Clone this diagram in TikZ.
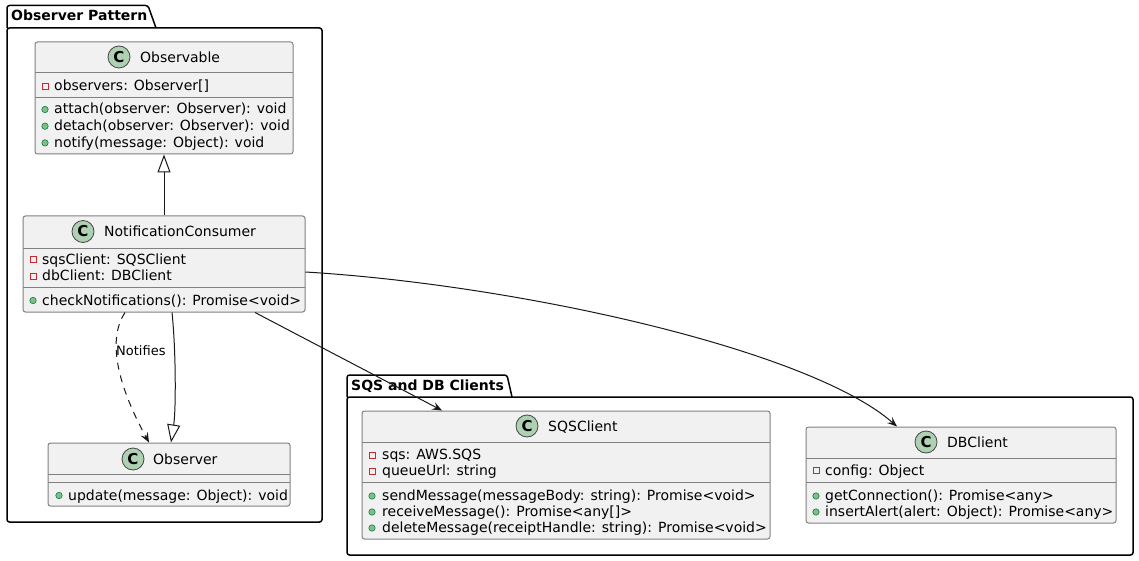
\documentclass[tikz,border=0pt]{standalone}
\usepackage{fontspec}
\setmainfont{DejaVu Sans}
\usetikzlibrary{arrows.meta}
\definecolor{boxfill}{HTML}{F1F1F1}
\definecolor{boxline}{HTML}{181818}
\definecolor{boxedge}{HTML}{808080}
\definecolor{spotfill}{HTML}{ADD1B2}
\definecolor{privred}{HTML}{C82930}
\definecolor{pubfill}{HTML}{84BE84}
\definecolor{publine}{HTML}{038048}
\begin{document}
\begin{tikzpicture}[x=1pt,y=-1pt,
  classbox/.style={draw=boxedge,line width=1pt,fill=boxfill,rounded corners=2.5pt,inner sep=0pt},
  divider/.style={draw=boxedge,line width=1pt},
  classspot/.style={circle,draw=boxline!80,line width=0.8pt,fill=spotfill,minimum size=22pt,inner sep=0pt,font=\fontsize{15}{15}\selectfont\bfseries},
  classtitle/.style={anchor=base west,inner sep=0pt,font=\fontsize{14}{17}\selectfont},
  membertext/.style={anchor=base west,inner sep=0pt,font=\fontsize{14}{17}\selectfont},
  priv/.style={draw=privred,line width=0.8pt},
  pub/.style={draw=publine,fill=pubfill,line width=0.6pt},
  pkg/.style={draw=black,line width=1.5pt,rounded corners=2.5pt},
  pkgtitle/.style={anchor=base west,inner sep=0pt,font=\fontsize{14}{17}\selectfont\bfseries},
  conn/.style={draw=boxline,line width=1pt},
  uses/.style={conn,-{Stealth[length=10pt,width=8pt,inset=4pt]}},
  extends/.style={conn,-{Triangle[open,length=18pt,width=13pt,fill=white]}}]
\useasboundingbox (0,0) rectangle (1139,561);
% packages
\draw[pkg] (7,28) rectangle (322,522);
\draw[pkg] (7,28) -- (7,5.5) -- (148,5.5) -- (156,28);
\node[pkgtitle] (observer-pkg) at (11,21) {Observer Pattern};
\draw[pkg] (347,397) rectangle (1133,555);
\draw[pkg] (347,397) -- (347,375) -- (507,375) -- (512,397);
\node[pkgtitle] (clients-pkg) at (351,390) {SQS and DB Clients};
% Observable
\node[classbox,minimum width=258pt,minimum height=112pt] (observable) at (164,98) {};
\draw[divider] (35,73) -- (293,73);
\draw[divider] (35,98) -- (293,98);
\node[classspot] (observable-c) at (119,57) {C};
\node[classtitle] (observable-name) at (140,62.5) {Observable};
\draw[priv] (42,83.5) rectangle (48,89.5);
\node[membertext] (observable-a1) at (54,91) {observers: Observer[]};
\draw[pub] (45,109.5) circle (3.2pt);
\node[membertext] (observable-m1) at (54,114) {attach(observer: Observer): void};
\draw[pub] (45,126.2) circle (3.2pt);
\node[membertext] (observable-m2) at (54,130.7) {detach(observer: Observer): void};
\draw[pub] (45,142.9) circle (3.2pt);
\node[membertext] (observable-m3) at (54,147.4) {notify(message: Object): void};
% NotificationConsumer
\node[classbox,minimum width=282pt,minimum height=96pt] (consumer) at (164,264) {};
\draw[divider] (23,248) -- (305,248);
\draw[divider] (23,287) -- (305,287);
\node[classspot] (consumer-c) at (83,231.5) {C};
\node[classtitle] (consumer-name) at (104,236.5) {NotificationConsumer};
\draw[priv] (30,256.5) rectangle (36,262.5);
\node[membertext] (consumer-a1) at (42,264) {sqsClient: SQSClient};
\draw[priv] (30,273) rectangle (36,279);
\node[membertext] (consumer-a2) at (42,280.5) {dbClient: DBClient};
\draw[pub] (33,300.5) circle (3.2pt);
\node[membertext] (consumer-m1) at (42,305) {checkNotifications(): Promise<void>};
% Observer
\node[classbox,minimum width=242pt,minimum height=63pt] (observer) at (169,474.5) {};
\draw[divider] (48,474) -- (290,474);
\draw[divider] (48,482) -- (290,482);
\node[classspot] (observer-c) at (133,459) {C};
\node[classtitle] (observer-name) at (153,464) {Observer};
\draw[pub] (59,495.5) circle (3.2pt);
\node[membertext] (observer-m1) at (68,500) {update(message: Object): void};
% SQSClient
\node[classbox,minimum width=408pt,minimum height=128pt] (sqsclient) at (566,475) {};
\draw[divider] (362,442) -- (770,442);
\draw[divider] (362,482) -- (770,482);
\node[classspot] (sqsclient-c) at (527,426) {C};
\node[classtitle] (sqsclient-name) at (548,431.5) {SQSClient};
\draw[priv] (369,452) rectangle (375,458);
\node[membertext] (sqsclient-a1) at (382,459.5) {sqs: AWS.SQS};
\draw[priv] (369,468) rectangle (375,474);
\node[membertext] (sqsclient-a2) at (382,475.5) {queueUrl: string};
\draw[pub] (372,496) circle (3.2pt);
\node[membertext] (sqsclient-m1) at (382,500.5) {sendMessage(messageBody: string): Promise<void>};
\draw[pub] (372,512) circle (3.2pt);
\node[membertext] (sqsclient-m2) at (382,516.5) {receiveMessage(): Promise<any[]>};
\draw[pub] (372,528) circle (3.2pt);
\node[membertext] (sqsclient-m3) at (382,532.5) {deleteMessage(receiptHandle: string): Promise<void>};
% DBClient
\node[classbox,minimum width=310pt,minimum height=96pt] (dbclient) at (961,475) {};
\draw[divider] (806,458) -- (1116,458);
\draw[divider] (806,482) -- (1116,482);
\node[classspot] (dbclient-c) at (926,442) {C};
\node[classtitle] (dbclient-name) at (947,447) {DBClient};
\draw[priv] (813,467.5) rectangle (819,473.5);
\node[membertext] (dbclient-a1) at (825,475) {config: Object};
\draw[pub] (816,496) circle (3.2pt);
\node[membertext] (dbclient-m1) at (825,500.5) {getConnection(): Promise<any>};
\draw[pub] (816,512) circle (3.2pt);
\node[membertext] (dbclient-m2) at (825,516.5) {insertAlert(alert: Object): Promise<any>};
% connectors
\draw[extends] (consumer.north) -- (observable.south);
\draw[uses,dash pattern=on 7pt off 6pt] ([xshift=-39pt]consumer.south) .. controls (110,335) and (112,375) .. ([xshift=-20pt]observer.north);
\node[anchor=base west,inner sep=0pt,font=\fontsize{13}{15}\selectfont] (notifies) at (116,355) {Notifies};
\draw[extends] ([xshift=8pt]consumer.south) .. controls (176,350) and (176,410) .. ([xshift=2pt]observer.north);
\draw[uses] ([xshift=91pt]consumer.south) -- ([xshift=-124pt]sqsclient.north);
\draw[uses] ([yshift=-8pt]consumer.east) .. controls (520,285) and (810,350) .. ([xshift=-64pt]dbclient.north);
\end{tikzpicture}
\end{document}
